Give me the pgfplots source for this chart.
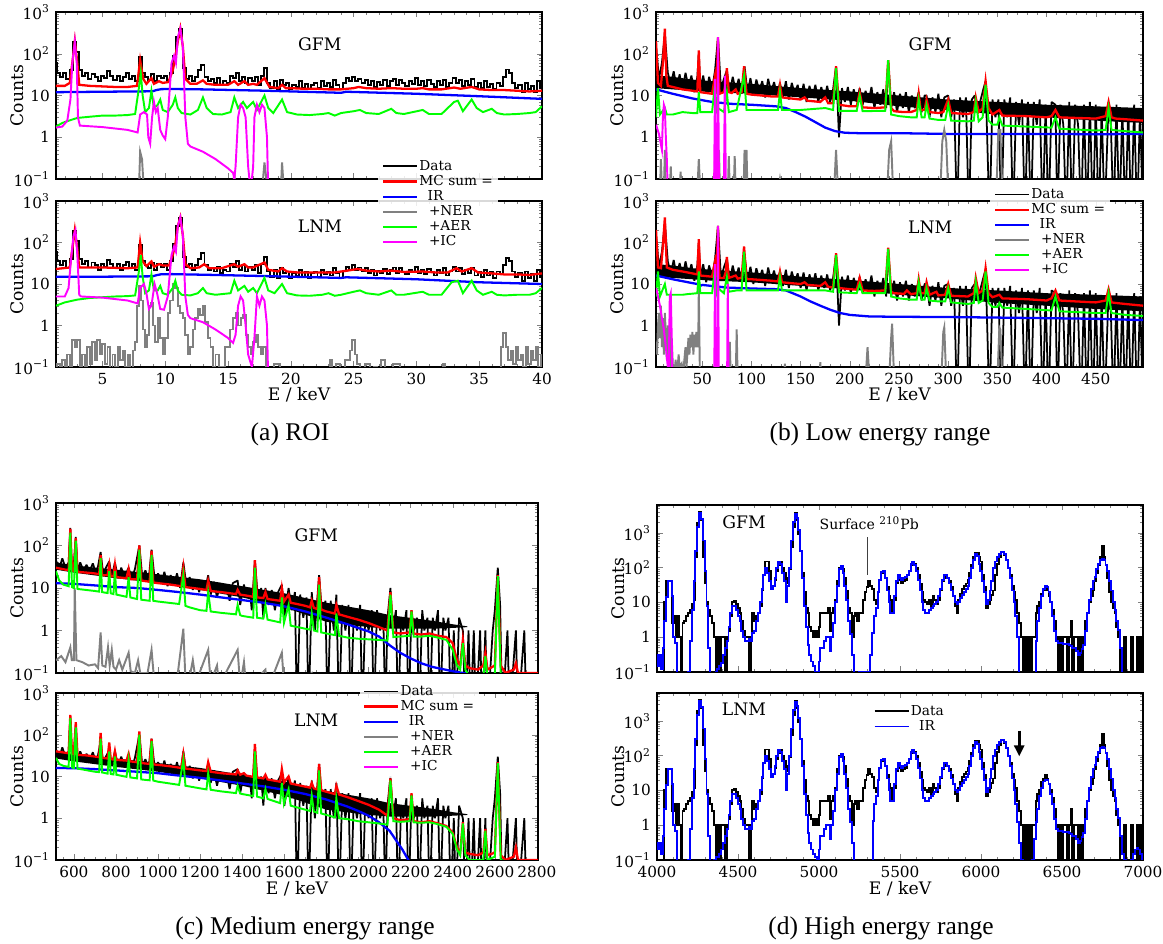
\documentclass[border=0pt]{standalone}
\usepackage{fontspec}
\setmainfont{DejaVu Serif}
\newfontfamily\capfont{Liberation Serif}
\usepackage{pgfplots}
\pgfplotsset{compat=1.18}
\usepackage{pgfplotstable}
\usetikzlibrary{arrows.meta}
\definecolor{mag}{RGB}{255,0,255}
\definecolor{lgreen}{RGB}{0,255,0}

\pgfkeys{/pgf/number format/.cd, 1000 sep={}, assume math mode=true}
\tikzset{panellab/.style={font=\fontsize{9.8}{11}\selectfont}}
\pgfplotsset{
  scale only axis,
  axis line style={line width=0.8pt},
  major tick length=0.11cm, minor tick length=0.06cm,
  tick label style={font=\fontsize{8.7}{9}\selectfont},
  ylabel style={at={(axis description cs:-0.08,0.5)}, anchor=center, font=\fontsize{9.8}{11}\selectfont},
  xlabel style={at={(axis description cs:0.5,-0.17)}, anchor=center, font=\fontsize{9.8}{11}\selectfont},
  legend cell align=left,
  legend style={font=\fontsize{7.8}{8}\selectfont, fill=white, fill opacity=0.85, text opacity=1, draw=none, anchor=north west, row sep=0pt, inner xsep=2pt, inner ysep=2pt, nodes={inner sep=0.7pt}},
  legend image code/.code={\draw[#1] (0cm,0cm) -- (0.68cm,0cm);},
}
\pgfplotsset{
 sDat/.style={black, line width=1.1pt, const plot mark mid},
 sDatThin/.style={black, line width=1.0pt, sharp plot, line join=miter, miter limit=1},
 sBand/.style={fill=black, draw=none, forget plot},
 sMC/.style={red, line width=1.3pt},
 sIR/.style={blue, line width=1.3pt},
 sNER/.style={gray, line width=1.1pt},
 sAER/.style={lgreen, line width=1.1pt},
 sIC/.style={mag, line width=1.1pt},
}

% ---------------- (a) ROI data ----------------
\pgfplotstableread{
x y
1.3 60
1.5 35
1.75 28
2.0 35
2.25 25
2.5 40
2.75 190
3.0 110
3.25 40
3.5 30
3.75 35
4.0 25
4.25 33
4.5 28
4.75 22
5.0 30
5.25 26
5.5 38
5.75 30
6.0 24
6.25 30
6.5 22
6.75 28
7.0 34
7.25 25
7.5 30
7.75 22
8.0 85
8.25 35
8.5 28
8.75 24
9.0 32
9.25 22
9.5 30
9.75 26
10.0 30
10.25 22
10.5 35
10.75 90
11.0 250
11.25 400
11.5 45
11.75 25
12.0 30
12.25 22
12.5 28
12.75 40
13.0 55
13.25 28
13.5 22
13.75 25
14.0 20
14.25 26
14.5 18
14.75 22
15.0 20
15.25 30
15.5 26
15.75 35
16.0 22
16.25 28
16.5 20
16.75 26
17.0 22
17.25 28
17.5 18
17.75 30
18.0 45
18.25 20
18.5 15
18.75 22
19.0 14
19.25 24
19.5 18
19.75 20
20.0 14
20.25 18
20.5 16
20.75 22
21.0 15
21.25 19
21.5 14
21.75 18
22.0 20
22.25 15
22.5 22
22.75 17
23.0 20
23.25 16
23.5 24
23.75 18
24.0 14
24.25 20
24.5 26
24.75 22
25.0 28
25.25 22
25.5 25
25.75 20
26.0 24
26.25 18
26.5 22
26.75 16
27.0 21
27.25 18
27.5 23
27.75 17
28.0 22
28.25 25
28.5 18
28.75 24
29.0 20
29.25 17
29.5 22
29.75 19
30.0 26
30.25 18
30.5 22
30.75 17
31.0 23
31.25 19
31.5 16
31.75 22
32.0 18
32.25 24
32.5 16
32.75 20
33.0 26
33.25 20
33.5 24
33.75 17
34.0 22
34.25 18
34.5 25
34.75 16
35.0 20
35.25 15
35.5 22
35.75 16
36.0 19
36.25 14
36.5 20
36.75 17
37.0 28
37.25 42
37.5 35
37.75 20
38.0 15
38.25 18
38.5 12
38.75 20
39.0 14
39.25 17
39.5 12
39.75 22
40.0 15
}\dataA

% ---------------- (b) low energy data ----------------
\pgfplotstableread{
x y
3 150
6 25
9 60
12 300
15 35
18 18
21 38
24 15
27 32
30 14
33 35
36 16
39 30
42 12
45 28
46.5 100
48 15
51 30
54 11
57 28
60 14
63 40
66 250
69 14
72 25
75 40
78 12
81 28
84 13
87 25
90 11
93 50
96 12
99 26
102 10
105 24
108 13
111 22
114 9
117 25
120 12
123 21
126 10
129 20
132 9
135 22
138 8
141 20
144 11
147 18
150 8
153 19
156 7
159 17
162 9
165 18
168 7
171 16
174 8
177 17
180 7
183 14
186 50
189 1
192 15
195 7
198 16
201 6
204 14
207 7
210 15
213 6
216 13
219 7
222 16
225 5
228 12
231 6
234 14
237 5
239 70
242 5
245 12
248 4
251 11
254 5
257 12
260 4
263 10
266 5
270 12
273 4
276 10
278 10
281 3
284 9
287 4
290 11
293 3
296 9
300 10
303 3
306 8
309 0.01
312 9
315 3
318 9
321 0.01
324 8
327 10
330 4
333 8
336 15
338 22
342 0.01
345 8
348 3
351 8
354 0.01
357 8
360 3
363 9
366 0.01
369 7
372 2
375 8
378 0.01
381 7
384 0.01
387 7
390 2
393 8
396 0.01
399 6
402 0.01
405 7
409 6
411 0.01
414 6
417 2
420 0.01
423 7
426 0.01
429 6
432 2
435 0.01
438 6
441 0.01
444 7
447 0.01
450 6
453 0.01
456 5
459 0.01
463 7
465 4
468 0.01
471 6
474 0.01
477 5
480 0.01
483 5
486 0.01
489 6
492 0.01
495 5
498 0.01
}\dataB

% band of the dense bins (upper envelope left to right, lower envelope right to left)
\pgfplotstableread{
x y
3 30
20 28
40 24
60 22
100 19
150 15
200 12.5
250 10
300 8
350 7
400 6
450 5.5
498 5
498 2.2
450 2.5
400 3
350 3.5
300 4.5
250 5.5
200 7.5
150 9
100 11
60 12
40 13
20 14
3 15
}\bandB

% ---------------- (c) medium energy data ----------------
\pgfplotstableread{
x y
515 45
530 28
545 50
560 30
575 40
583 260
590 30
600 38
609 160
618 25
630 40
645 26
660 35
675 25
690 38
705 22
715 33
727 70
740 20
752 30
768 42
780 18
795 40
810 17
825 30
840 18
860 30
875 16
890 28
911 100
925 18
940 26
955 15
969 80
985 14
1000 22
1015 13
1030 24
1045 11
1060 20
1075 12
1090 22
1105 10
1120 40
1135 11
1150 18
1165 9
1180 16
1195 8
1210 15
1225 10
1238 20
1250 7
1265 14
1280 6
1295 13
1310 8
1325 12
1340 5
1355 13
1378 15
1390 4
1408 12
1420 6
1435 10
1445 3
1460 45
1475 5
1490 10
1500 2
1510 10
1525 4
1540 9
1555 3
1570 8
1588 12
1600 2
1620 10
1635 3
1650 8
1660 0.01
1675 7
1690 2
1705 6
1715 0.01
1730 8
1745 1
1765 20
1780 2
1795 5
1805 0.01
1820 5
1835 1
1847 7
1860 0.01
1875 4
1890 1
1905 4
1915 0.01
1930 3
1945 1
1960 4
1970 0.01
1985 3
2000 1
2015 3
2025 0.01
2040 3
2055 1
2070 2
2080 0.01
2090 2
2104 10
2115 1
2130 3
2140 0.01
2155 2
2165 1
2180 3
2190 0.01
2204 3
2215 1
2230 2
2240 0.01
2255 3
2265 1
2280 2
2290 0.01
2305 2
2315 1
2330 3
2340 0.01
2355 2
2365 1
2380 2
2390 0.01
2405 1
2415 0.01
2430 2
2448 1
2460 0.01
2475 1
2485 0.01
2500 1
2510 0.01
2530 1
2540 0.01
2555 1
2565 0.01
2590 1
2600 3
2614 30
2625 4
2635 0.01
2660 1
2670 0.01
2700 1
2710 0.01
2740 1
2750 0.01
2805 0.01
}\dataC

\pgfplotstableread{
x y
515 40
600 34
800 27
1000 21
1200 16
1400 11
1600 7.5
1800 4.5
2000 3
2100 2.3
2300 1.7
2400 1.4
2470 1.25
2470 1.2
2400 1.15
2300 1.1
2100 1.1
2000 1.2
1800 1.6
1600 3.5
1400 6
1200 9
1000 13
800 17
600 23
515 27
}\bandC

% ---------------- (d) high energy data ----------------
\pgfplotstableread{
x y
4000 0.01
4040 0.01
4050 10
4062 40
4078 40
4090 40
4100 2.5
4110 4
4120 1
4130 4
4140 1
4152 0.01
4163 2.5
4175 3
4186 4
4198 5
4209 6
4220 9
4231 12
4243 200
4254 1900
4266 4100
4277 2400
4288 200
4300 35
4311 10
4322 6
4334 4
4345 2.5
4356 1
4367 0.01
4378 1
4390 0.01
4401 1
4412 1
4424 0.01
4436 1
4447 1.5
4458 4
4470 10
4481 11
4493 9
4504 7
4515 5
4527 3
4538 1.5
4549 1
4561 1
4572 0.01
4583 1
4595 5
4606 3
4618 4
4629 5
4640 8
4651 22
4662 60
4670 150
4686 150
4697 80
4708 28
4720 30
4731 45
4743 80
4754 120
4765 150
4777 100
4788 70
4800 35
4811 50
4822 90
4833 400
4844 1500
4856 3700
4867 2400
4878 900
4889 300
4901 70
4912 20
4924 7
4935 5
4946 2
4958 1.5
4969 1
4980 1.5
4992 1
5003 2
5015 5
5026 5
5037 5
5049 5
5060 7
5071 1.5
5083 5
5094 7
5106 12
5117 40
5128 100
5140 110
5151 90
5162 50
5174 22
5185 7
5196 5
5208 1
5219 4
5230 5
5242 3
5253 5
5264 5
5276 12
5287 20
5299 28
5310 40
5321 30
5333 25
5344 12
5356 9
5367 20
5378 45
5390 70
5401 80
5412 50
5424 28
5435 15
5446 12
5458 5
5469 12
5480 35
5492 60
5503 45
5514 35
5526 40
5537 45
5548 60
5560 80
5571 120
5582 150
5594 130
5605 100
5616 60
5628 35
5639 20
5650 12
5662 10
5673 9
5684 12
5696 8
5707 15
5718 12
5730 9
5741 12
5752 22
5764 40
5775 50
5786 55
5798 50
5809 40
5820 28
5832 15
5843 8
5855 5
5866 12
5877 18
5889 25
5900 30
5911 35
5923 45
5934 70
5946 120
5957 200
5968 260
5980 260
5991 200
6002 150
6014 60
6025 28
6036 7
6048 9
6059 12
6070 16
6082 22
6093 60
6105 130
6116 200
6128 290
6139 280
6150 230
6162 160
6173 100
6184 60
6196 30
6207 20
6218 12
6230 5
6241 2.5
6252 1
6263 0.01
6275 1
6286 0.01
6297 1
6309 0.01
6320 1
6331 1
6343 5
6354 8
6365 10
6377 18
6388 22
6400 28
6411 22
6422 15
6434 10
6445 6
6456 3
6467 1
6479 0.01
6490 1
6501 0.01
6513 1
6524 1
6535 0.01
6547 1
6558 3
6569 0.01
6581 1
6592 1
6603 0.01
6615 1
6626 0.01
6638 1
6650 3
6661 5
6672 10
6683 15
6695 22
6706 40
6717 70
6729 120
6740 200
6751 420
6763 200
6774 120
6785 50
6797 20
6808 10
6819 7
6830 5
6842 2
6853 1
6865 0.01
6876 0.01
6887 1
6899 0.01
6921 0.01
6932 1
6944 0.01
6955 0.01
6966 1
6978 0.01
6990 1
7000 0.01
}\dataD

\pgfplotstableread{
x y
4000 0.3
4010 0.15
4020 0.3
4030 0.12
4040 0.5
4050 3
4062 14
4073 40
4085 42
4096 15
4107 1
4118 0.7
4130 0.01
4186 0.01
4198 0.1
4209 0.8
4220 6
4231 40
4243 300
4254 1500
4266 3700
4277 2500
4288 600
4300 80
4311 8
4322 0.5
4334 0.01
4356 0.01
4367 0.1
4378 0.12
4390 0.15
4401 0.18
4412 0.3
4424 0.5
4436 0.8
4447 2
4458 5
4470 8
4481 8
4493 6
4504 4
4515 3
4527 1.5
4538 1
4549 0.8
4561 0.8
4572 0.9
4583 0.8
4595 1.3
4606 1.5
4618 3
4629 5
4640 10
4651 25
4662 60
4674 100
4686 70
4697 40
4708 25
4720 30
4731 50
4743 100
4754 150
4765 130
4777 70
4788 40
4800 10
4811 30
4822 100
4833 600
4844 2000
4856 3500
4867 2600
4878 1200
4889 300
4901 50
4912 8
4924 2
4935 0.6
4946 0.3
4958 0.2
4969 0.15
4980 0.1
4992 0.1
5003 0.2
5015 0.5
5026 0.5
5037 0.8
5049 1
5060 1
5071 0.4
5083 1
5094 2.5
5106 10
5117 30
5128 90
5140 110
5151 70
5162 30
5174 12
5185 3
5196 1.2
5208 0.3
5219 0.01
5242 0.01
5253 0.1
5264 0.1
5276 0.1
5287 0.1
5299 0.1
5310 0.1
5321 0.3
5333 1.3
5344 4
5356 7
5367 20
5378 45
5390 75
5401 80
5412 50
5424 22
5435 10
5446 5
5458 5
5469 15
5480 40
5492 60
5503 50
5514 45
5526 50
5537 55
5548 60
5560 80
5571 130
5582 150
5594 120
5605 80
5616 45
5628 22
5639 10
5650 6
5662 5
5673 5
5684 6
5696 7
5707 8
5718 9
5730 10
5741 15
5752 25
5764 45
5775 60
5786 60
5798 50
5809 35
5820 22
5832 15
5843 10
5855 9
5866 10
5877 13
5889 16
5900 20
5911 25
5923 30
5934 50
5946 100
5957 165
5968 250
5980 220
5991 130
6002 80
6014 40
6025 20
6036 9
6048 12
6059 22
6070 40
6082 100
6093 150
6105 200
6116 250
6128 280
6139 290
6150 250
6162 170
6173 100
6184 50
6196 22
6207 10
6218 4
6230 1
6241 0.01
6331 0.01
6343 0.8
6354 3
6365 7
6377 15
6388 25
6400 30
6411 28
6422 20
6434 10
6445 4
6456 1.5
6467 0.8
6479 0.7
6490 0.7
6501 0.7
6513 0.65
6524 0.65
6535 0.65
6547 0.6
6558 0.55
6569 0.5
6581 0.5
6592 0.4
6603 0.3
6615 0.35
6626 0.45
6638 0.6
6650 1.5
6661 5
6672 12
6683 25
6695 40
6706 55
6717 90
6729 130
6740 165
6751 180
6763 170
6774 120
6785 80
6797 40
6808 22
6819 10
6830 6
6842 3
6853 1.6
6865 0.5
6876 0.01
7000 0.01
}\irDg

\pgfplotstableread{
x y
4000 0.3
4010 0.2
4020 0.3
4030 0.15
4040 0.5
4050 3
4062 14
4073 40
4085 42
4096 15
4107 1
4118 0.7
4130 0.01
4186 0.01
4198 0.1
4209 0.8
4220 6
4231 40
4243 300
4254 1500
4266 3700
4277 2500
4288 600
4300 80
4311 8
4322 0.5
4334 0.01
4345 0.01
4356 0.1
4367 0.12
4378 0.12
4390 0.15
4401 0.2
4412 0.3
4424 0.5
4436 0.8
4447 2
4458 5
4470 8
4481 8
4493 6
4504 4
4515 3
4527 1.5
4538 1
4549 0.8
4561 0.8
4572 0.9
4583 0.8
4595 1.3
4606 1.5
4618 3
4629 5
4640 10
4651 25
4662 60
4674 100
4686 70
4697 40
4708 25
4720 30
4731 50
4743 100
4754 150
4765 130
4777 70
4788 40
4800 10
4811 30
4822 100
4833 600
4844 2000
4856 3500
4867 2600
4878 1200
4889 300
4901 50
4912 8
4924 2
4935 0.6
4946 0.3
4958 0.2
4969 0.15
4980 0.12
4992 0.1
5003 0.2
5015 0.5
5026 0.5
5037 0.8
5049 1
5060 1
5071 0.4
5083 1
5094 2.5
5106 10
5117 30
5128 90
5140 110
5151 70
5162 30
5174 12
5185 3
5196 1.2
5208 0.3
5219 0.01
5331 0.01
5333 1.3
5344 4
5356 7
5367 20
5378 45
5390 75
5401 80
5412 50
5424 22
5435 10
5446 5
5458 5
5469 15
5480 40
5492 60
5503 50
5514 45
5526 50
5537 55
5548 60
5560 80
5571 130
5582 150
5594 120
5605 80
5616 45
5628 22
5639 10
5650 6
5662 5
5673 5
5684 6
5696 7
5707 8
5718 9
5730 10
5741 15
5752 25
5764 45
5775 60
5786 60
5798 50
5809 35
5820 22
5832 15
5843 10
5855 9
5866 10
5877 13
5889 16
5900 20
5911 25
5923 30
5934 50
5946 100
5957 165
5968 250
5980 220
5991 130
6002 80
6014 40
6025 20
6036 9
6048 12
6059 22
6070 40
6082 100
6093 150
6105 200
6116 250
6128 280
6139 290
6150 250
6162 170
6173 100
6184 50
6196 22
6207 10
6218 4
6230 1.2
6241 0.3
6252 0.1
6263 0.01
6309 0.01
6320 0.1
6331 0.4
6343 1.2
6354 3
6365 7
6377 12
6388 18
6400 20
6411 20
6422 15
6434 8
6445 4
6456 1.5
6467 0.8
6479 0.7
6490 0.7
6501 0.7
6513 0.65
6524 0.65
6535 0.65
6547 0.6
6558 0.55
6569 0.5
6581 0.5
6592 0.4
6603 0.3
6615 0.35
6626 0.45
6638 0.6
6650 1.5
6661 5
6672 12
6683 25
6695 40
6706 55
6717 90
6729 130
6740 165
6751 180
6763 170
6774 120
6785 80
6797 40
6808 22
6819 10
6830 6
6842 3
6853 1.6
6865 0.5
6876 0.15
6887 0.1
6899 0.01
6921 0.01
6932 0.1
6944 0.15
6955 0.2
6966 0.22
6978 0.2
6990 0.15
7000 0.1
}\irDl

\begin{document}
\begin{tikzpicture}

% ================= (a) ROI =================
\begin{axis}[at={(1.12cm,18.64cm)}, anchor=north west, width=9.72cm, height=3.34cm,
  ymode=log, ymin=0.1, ymax=1000, ytick={0.1,1,10,100,1000}, yticklabels={10\textsuperscript{−1},1,10,10\textsuperscript{2},10\textsuperscript{3}},
  minor ytick={0.2,0.3,0.4,0.5,0.6,0.7,0.8,0.9,2,3,4,5,6,7,8,9,20,30,40,50,60,70,80,90,200,300,400,500,600,700,800,900},
  ylabel={Counts},
  xmin=1.3, xmax=40, xtick={5,10,...,40}, xticklabels={}, minor xtick={2,3,...,40}]
\addplot[sDat] table {\dataA};
\addplot[sMC] coordinates {(1.3,17) (2.0,17) (2.4,20) (2.65,80) (2.8,200) (3.0,60) (3.15,18) (4,17) (5,16.5) (6,16) (7,16) (7.75,17) (8.0,70) (8.25,25) (8.5,19) (8.9,26) (9.1,19) (9.5,22) (9.8,20) (10.25,21) (10.6,40) (10.8,80) (11.0,200) (11.2,400) (11.4,150) (11.6,25) (12.0,19) (12.5,19) (13.0,23) (13.3,19) (14,18) (15.0,18) (15.5,22) (15.8,18) (16.3,22) (16.6,18) (17.0,19) (17.3,18) (17.9,26) (18.3,16) (19,15) (19.3,18) (19.6,15) (20,15) (21,14.5) (22,14.5) (23,14) (24,14) (25,15) (25.4,16) (26,15) (27,14.5) (28,15) (29,14.5) (30,14.5) (30.5,15) (31,14) (32,14) (33,15.5) (33.5,14.5) (34.4,16) (35,14) (36,13.5) (37,13.5) (38,13) (39,12.5) (40,13)};
\addplot[sIR] coordinates {(1.3,12) (5,12.3) (9.0,12.6) (9.3,13.5) (9.7,14.2) (10.5,14.3) (13,14) (18,13) (24,11.6) (24.4,12.3) (30,11) (35,9.6) (40,8.3)};
\addplot[sNER] coordinates {(1.3,0.03) (7.9,0.05) (8.0,0.45) (8.15,0.3) (8.3,0.05) (15.4,0.05) (15.5,0.15) (15.6,0.05) (17.7,0.05) (17.9,0.25) (18.05,0.1) (18.2,0.05) (19.2,0.05) (19.3,0.25) (19.45,0.05) (40,0.03)};
\addplot[sAER] coordinates {(1.3,1.8) (1.8,2.2) (2.5,2.6) (3,2.9) (4,3.1) (5,3.3) (6,3.3) (7,3.4) (7.6,3.6) (7.9,15) (8.05,35) (8.2,10) (8.4,4) (8.7,5) (8.9,13) (9.1,5) (9.4,6) (9.6,8) (9.8,4.5) (10.2,4) (10.6,6) (10.8,9) (11.0,5) (11.3,3.8) (12,3.5) (12.6,4.5) (13.0,9) (13.3,5) (13.8,3.6) (14.5,3.5) (15.2,4) (15.5,9) (15.8,5) (16.2,7) (16.5,5) (17.0,7) (17.3,4.5) (17.9,10) (18.2,5) (18.6,3.8) (19.3,8) (19.7,4) (20.5,3.5) (21.5,3.4) (22.5,3.6) (23,3.8) (23.5,3.3) (24,3.8) (25,4.2) (25.5,4.5) (26,3.8) (27,3.6) (28,4.8) (28.4,3.8) (29,3.6) (30.5,4.5) (31,3.6) (32,3.6) (33,7) (33.3,7.5) (33.7,4.2) (34.4,8) (34.8,5) (35.3,4) (36,4.8) (36.4,3.8) (37,3.5) (38,3.6) (39,3.8) (39.5,4) (40,5.5)};
\addplot[sIC] coordinates {(1.3,1.7) (1.8,1.8) (2.2,2.5) (2.45,8) (2.6,60) (2.8,200) (2.95,60) (3.05,3) (3.2,1.9) (5,1.75) (7,1.5) (7.8,1.3) (8.0,3.5) (8.3,4) (8.55,3.5) (8.65,1.0) (8.8,0.7) (8.95,3) (9.1,7) (9.25,4) (9.4,5) (9.6,1.5) (9.8,1.1) (10.0,0.9) (10.2,3) (10.5,60) (10.7,90) (10.85,60) (11.0,250) (11.2,400) (11.4,150) (11.6,3) (11.8,0.7) (12.0,0.6) (13,0.45) (14,0.3) (15,0.18) (15.4,0.14) (15.5,0.1) (15.6,0.2) (15.8,3) (16.0,6) (16.2,5) (16.4,3) (16.6,0.2) (16.8,0.05) (17.0,0.2) (17.1,3) (17.3,6) (17.5,4) (17.7,6) (17.9,5) (18.1,1) (18.2,0.05) (18.25,0.01)};
\node[panellab] at (axis description cs:0.543,0.808) {GFM};
\end{axis}

\begin{axis}[at={(1.12cm,14.86cm)}, anchor=north west, width=9.72cm, height=3.32cm,
  ymode=log, ymin=0.1, ymax=1000, ytick={0.1,1,10,100,1000}, yticklabels={10\textsuperscript{−1},1,10,10\textsuperscript{2},10\textsuperscript{3}},
  minor ytick={0.2,0.3,0.4,0.5,0.6,0.7,0.8,0.9,2,3,4,5,6,7,8,9,20,30,40,50,60,70,80,90,200,300,400,500,600,700,800,900},
  ylabel={Counts},
  xmin=1.3, xmax=40, xtick={5,10,...,40}, minor xtick={2,3,...,40}, xlabel={E / keV},
  legend style={at={(axis description cs:0.6626,1.277)}},
  legend entries={Data, MC sum =, \hspace{0.6em}IR, \hspace{0.7em}+NER, \hspace{0.7em}+AER, \hspace{0.7em}+IC}]
\addplot[sDat] table {\dataA};
\addplot[sMC] coordinates {(1.3,23) (2.4,25) (2.65,90) (2.8,200) (3.0,70) (3.15,25) (5,25) (7,24) (7.8,25) (8.0,100) (8.2,35) (8.5,27) (8.9,35) (9.1,26) (9.5,30) (9.8,28) (10.3,28) (10.6,50) (10.8,90) (11.0,250) (11.2,400) (11.4,150) (11.6,30) (12,24) (12.7,25) (13.1,30) (13.5,24) (14.5,24) (15.5,30) (15.8,26) (16.3,30) (16.6,25) (17.0,25) (17.9,33) (18.2,22) (19,20) (19.3,24) (19.7,20) (20.5,19) (22,19) (23.5,19) (24.5,21) (25.3,23) (26,21) (27,20) (28,21) (29,19.5) (30.5,20) (31.5,19) (32.5,19) (33.2,24) (33.6,20) (34.4,24) (34.9,19) (36,18) (37,17) (38,17) (39,16.5) (40,18)};
\addplot[sIR] coordinates {(1.3,15) (5,15) (9.0,15.3) (9.3,16.3) (9.7,17.2) (10.5,17.3) (14,16.5) (18,15.5) (24,14) (24.4,14.5) (30,13) (35,11) (40,10)};
\addplot[sNER, const plot mark mid] coordinates {(1.3,0.05) (1.5,0.12) (1.7,0.05) (1.9,0.15) (2.1,0.05) (2.3,0.2) (2.5,0.1) (2.7,0.45) (2.9,0.3) (3.1,0.45) (3.3,0.1) (3.5,0.2) (3.7,0.05) (3.9,0.3) (4.1,0.12) (4.3,0.4) (4.5,0.15) (4.7,0.45) (4.9,0.2) (5.1,0.35) (5.3,0.12) (5.5,0.3) (5.7,0.05) (5.9,0.2) (6.1,0.1) (6.3,0.3) (6.5,0.15) (6.7,0.25) (6.9,0.1) (7.1,0.2) (7.3,0.05) (7.5,0.25) (7.7,0.4) (7.85,3) (8.0,9) (8.15,4) (8.3,0.8) (8.45,0.3) (8.6,0.6) (8.8,3) (8.95,3.5) (9.1,1) (9.3,0.4) (9.5,1.5) (9.7,0.5) (9.9,0.2) (10.1,0.5) (10.3,2) (10.5,4) (10.7,10) (10.9,8) (11.1,3) (11.3,2) (11.5,1.5) (11.7,0.6) (11.9,0.2) (12.1,0.3) (12.3,0.8) (12.5,1.5) (12.7,2.5) (12.9,1.8) (13.1,3) (13.3,1.2) (13.5,0.5) (13.7,0.3) (13.9,0.1) (14.1,0.2) (14.5,0.1) (15.0,0.3) (15.3,0.8) (15.5,1.5) (15.7,2) (15.9,1) (16.1,1.5) (16.3,1.8) (16.5,0.6) (16.7,0.3) (16.9,0.2) (17.1,0.4) (17.3,0.6) (17.5,0.3) (17.7,0.2) (17.9,0.3) (18.1,0.1) (18.3,0.05) (19.0,0.12) (19.2,0.05) (23.0,0.05) (23.2,0.15) (23.4,0.05) (23.8,0.12) (24.0,0.05) (24.6,0.15) (24.8,0.25) (25.0,0.45) (25.2,0.2) (25.4,0.12) (25.6,0.05) (26.2,0.12) (26.4,0.05) (26.8,0.1) (27.0,0.05) (27.4,0.15) (27.6,0.05) (28.6,0.12) (28.8,0.05) (32.0,0.05) (32.2,0.12) (32.4,0.05) (36.6,0.05) (36.8,0.3) (37.0,0.65) (37.2,0.3) (37.4,0.15) (37.6,0.25) (37.8,0.12) (38.0,0.3) (38.2,0.15) (38.4,0.2) (38.6,0.1) (38.8,0.3) (39.0,0.12) (39.2,0.25) (39.4,0.15) (39.6,0.3) (39.8,0.1) (40,0.2)};
\addplot[sAER] coordinates {(1.3,3) (2,3.6) (3,4.2) (4,4.6) (5,4.8) (6,5) (7,5.1) (7.6,5.3) (7.9,20) (8.05,50) (8.2,15) (8.4,6) (8.7,7) (8.9,17) (9.1,7) (9.4,7) (9.6,9) (9.8,6) (10.2,5.5) (10.6,8) (10.8,12) (11.0,7) (11.3,5.5) (12,5.3) (12.6,6) (13.0,8) (13.3,6) (14,5.5) (15.2,6) (15.5,12) (15.8,7) (16.3,9) (16.6,6.5) (17.0,8) (17.3,6) (17.9,14) (18.2,7) (18.7,6) (19.3,10) (19.7,6) (20.5,5.3) (21.5,5.2) (22.5,5.5) (23,6) (23.5,5.2) (24,5.5) (25,6.5) (25.5,7) (26,6) (27,5.5) (28,7) (28.4,5.5) (29,5.5) (30.5,6.5) (31,5.5) (32,5.5) (32.8,11) (33.3,12) (33.7,6) (34.4,12) (34.8,7) (35.3,5.5) (36,6.5) (36.4,5.5) (37,5.3) (38,5.5) (39,5.5) (39.5,6) (40,8)};
\addplot[sIC] coordinates {(1.3,5) (2,5) (2.3,8) (2.5,40) (2.7,150) (2.85,200) (3.0,50) (3.15,5.5) (3.3,5) (5,4.7) (7,4) (7.8,3.4) (8.0,8) (8.3,10) (8.5,6) (8.7,2.5) (8.9,3) (9.15,10) (9.35,6) (9.6,2.5) (9.9,2.4) (10.2,5) (10.5,50) (10.7,80) (10.85,60) (11.0,250) (11.2,400) (11.4,150) (11.6,5) (11.8,1.8) (12.0,1.5) (13,1.2) (14,0.8) (15,0.5) (15.4,0.38) (15.6,0.6) (15.8,3) (16.0,5) (16.2,4) (16.4,1) (16.6,0.2) (16.9,0.1) (17.1,0.5) (17.3,5) (17.5,3) (17.7,5) (17.9,4) (18.1,1) (18.25,0.01)};
\node[panellab] at (axis description cs:0.543,0.849) {LNM};
\end{axis}

% ================= (b) Low energy =================
\begin{axis}[at={(13.12cm,18.64cm)}, anchor=north west, width=9.74cm, height=3.34cm,
  ymode=log, ymin=0.1, ymax=1000, ytick={0.1,1,10,100,1000}, yticklabels={10\textsuperscript{−1},1,10,10\textsuperscript{2},10\textsuperscript{3}},
  minor ytick={0.2,0.3,0.4,0.5,0.6,0.7,0.8,0.9,2,3,4,5,6,7,8,9,20,30,40,50,60,70,80,90,200,300,400,500,600,700,800,900},
  ylabel={Counts},
  xmin=3, xmax=498, xtick={50,100,...,450}, xticklabels={}, minor xtick={10,20,...,490}]
\addplot[sBand] table {\bandB};
\addplot[sDatThin] table {\dataB};
\addplot[sMC] coordinates {(3,200) (5,20) (8,17) (10,60) (12,400) (13.5,30) (15,17) (20,16) (30,14) (40,13) (45,12.5) (46.5,120) (48,12) (60,11) (63,30) (64.5,11) (66,250) (67.5,11) (72,12) (74,20) (75,45) (77,12) (80,11.5) (84,14) (86,11) (90,12) (92.5,50) (95,11) (100,10.5) (110,10) (120,9.5) (127,9.5) (129,18) (131,9) (140,8.5) (150,8) (154,9) (157,7.5) (170,7) (175,9) (178,6.5) (183,6.5) (186,50) (189,6) (200,5.5) (207,5.5) (210,12) (213,5.2) (225,5) (236,5.2) (239,70) (242,5) (245,4.2) (255,4) (262,4) (268,4.5) (270,11) (272,4.5) (276,4.5) (278,8) (281,4) (290,3.8) (295,4) (300,8) (303,3.8) (320,3.6) (326,4) (328,9) (331,4) (335,5) (338,22) (341,5) (345,3.5) (352,4.5) (355,3.3) (380,3.2) (400,3) (405,3.2) (409,4.5) (413,3) (430,2.9) (450,2.8) (460,3.2) (463,7) (466,3) (470,2.8) (480,2.7) (498,2.5)};
\addplot[sIR] coordinates {(3,14) (20,11) (40,8.5) (60,7) (80,6.3) (100,6) (125,5.5) (135,5) (145,4) (155,3.1) (165,2.3) (175,1.7) (185,1.4) (195,1.28) (210,1.25) (250,1.25) (300,1.2) (350,1.2) (400,1.2) (450,1.18) (498,1.2)};
\addplot[sNER] coordinates {(3,0.05) (7,0.05) (8,0.3) (9,0.05) (11,0.05) (12,0.5) (13,0.05) (17,0.05) (18,0.2) (19,0.05) (27,0.05) (28,0.15) (29,0.05) (45,0.05) (46.5,0.3) (48,0.05) (62,0.05) (63,0.3) (64,0.05) (66,0.05) (67,0.5) (68,0.05) (76,0.05) (77,0.35) (78,0.05) (82,0.05) (83,0.35) (84,0.05) (92,0.05) (93,0.5) (94,0.05) (95,0.5) (96,0.05) (127,0.05) (129,0.1) (131,0.05) (184,0.05) (186,0.5) (188,0.05) (238,0.05) (240,0.5) (242,0.8) (244,0.05) (292,0.05) (294,0.8) (296,1.5) (298,0.8) (300,0.05) (349,0.05) (351,1.5) (353,1.5) (355,0.05) (498,0.05)};
\addplot[sAER] coordinates {(3,3) (5,15) (7,3.5) (12,5) (14,3.5) (20,3.5) (30,4) (40,3.8) (45,3.8) (46.5,12) (48,4) (60,4) (63,20) (64.5,4.2) (66,5) (72,4) (75,12) (77,4) (85,4.5) (92.5,30) (95,4.5) (110,4.5) (127,4.5) (129,12) (131,4.5) (150,4.5) (175,5) (183,4.5) (186,45) (189,4.3) (207,4.3) (210,10) (213,4.2) (236,4.3) (239,70) (242,3.5) (250,3.2) (262,3) (268,3) (270,8) (273,3) (276,3) (278,6) (281,2.8) (290,2.6) (297,2.6) (300,6) (303,2.5) (320,2.4) (326,2.5) (328,7) (331,2.4) (335,3) (338,18) (341,2.5) (345,2) (350,2) (352,3) (355,1.9) (380,1.8) (405,1.7) (409,3) (413,1.6) (450,1.45) (460,1.5) (463,5) (466,1.5) (480,1.4) (498,1.3)};
\addplot[sIC] coordinates {(3,2) (6,1.2) (9,0.5) (10,3) (11,6) (12,5) (13,1) (14,0.3) (15,0.05) (62,0.05) (63,25) (64,0.1) (65.5,0.05) (66,250) (67,0.05) (72,0.05) (73,30) (74,0.05) (498,0.05)};
\node[panellab] at (axis description cs:0.563,0.808) {GFM};
\end{axis}

\begin{axis}[at={(13.12cm,14.86cm)}, anchor=north west, width=9.74cm, height=3.32cm,
  ymode=log, ymin=0.1, ymax=1000, ytick={0.1,1,10,100,1000}, yticklabels={10\textsuperscript{−1},1,10,10\textsuperscript{2},10\textsuperscript{3}},
  minor ytick={0.2,0.3,0.4,0.5,0.6,0.7,0.8,0.9,2,3,4,5,6,7,8,9,20,30,40,50,60,70,80,90,200,300,400,500,600,700,800,900},
  ylabel={Counts},
  xmin=3, xmax=498, xtick={50,100,...,450}, minor xtick={10,20,...,490}, xlabel={E / keV},
  legend style={at={(axis description cs:0.686,1.108)}},
  legend entries={Data, MC sum =, \hspace{0.6em}IR, \hspace{0.7em}+NER, \hspace{0.7em}+AER, \hspace{0.7em}+IC}]
\addplot[sBand] table {\bandB};
\addplot[sDatThin] table {\dataB};
\addplot[sMC] coordinates {(3,200) (5,25) (8,24) (10,80) (12,400) (14,25) (20,22) (30,20) (40,18) (45,17) (46.5,120) (48,16) (60,15) (63,35) (64.5,15) (66,250) (67.5,14) (72,14) (74,20) (75,45) (77,14) (84,16) (86,13.5) (90,14) (92.5,80) (95,13) (100,13) (110,12.5) (120,12) (127,11.5) (129,20) (131,11) (140,10.5) (150,10) (154,11) (157,9.5) (170,9) (175,11) (178,8.5) (183,8.3) (186,55) (189,8) (200,7.5) (207,7.3) (210,14) (213,7) (225,6.8) (236,7) (239,75) (242,6.5) (245,6) (255,5.8) (258,7) (262,5.7) (268,6) (270,13) (272,6) (276,6) (278,11) (281,5.5) (288,6.5) (290,5.3) (297,5.5) (300,10) (303,5.2) (320,5) (326,6) (328,14) (331,6) (335,7) (338,24) (341,6) (345,4.8) (352,5.5) (355,4.5) (380,4.3) (400,4) (405,4.5) (409,7) (413,4) (430,3.8) (450,3.6) (460,4) (463,7.5) (466,3.6) (470,3.5) (480,3.3) (498,3)};
\addplot[sIR] coordinates {(3,16) (20,13) (40,10.5) (47,9.8) (48,9) (50,9.5) (75,8.2) (100,7.8) (125,7.5) (135,7) (150,5) (160,3.8) (170,3) (180,2.4) (190,2) (200,1.8) (220,1.65) (250,1.62) (300,1.6) (350,1.55) (400,1.5) (450,1.45) (498,1.35)};
\addplot[sNER] coordinates {(3,0.4) (4,0.2) (5,1) (6,2) (7,0.5) (8,3) (9,0.3) (10,1.5) (11,0.2) (12,2) (13,0.6) (14,0.15) (15,1) (16,0.3) (17,0.8) (18,0.1) (19,0.5) (20,0.12) (21,0.05) (23,0.15) (24,0.05) (26,0.2) (27,0.1) (29,0.12) (30,0.05) (33,0.3) (34,0.1) (36,0.5) (37,0.2) (38,0.6) (39,0.3) (40,0.7) (41,0.2) (42,0.6) (43,0.3) (44,0.7) (45,0.3) (46,0.5) (46.5,8) (47.5,0.1) (49,0.05) (64,0.05) (65,0.3) (66,0.05) (77,0.05) (78,0.4) (79,0.05) (84,0.05) (85,0.8) (86,0.05) (133,0.05) (134,0.12) (135,0.05) (169,0.05) (170,0.13) (171,0.05) (216,0.05) (218,0.3) (220,0.05) (240,0.05) (242,0.5) (243,1.1) (245,0.05) (293,0.05) (295,0.7) (296,0.9) (298,0.05) (350,0.05) (352,0.9) (353,0.8) (355,0.05) (498,0.05)};
\addplot[sAER] coordinates {(3,5) (5,20) (7,5) (12,10) (14,5.5) (20,5.5) (30,5.5) (35,5.7) (45,6) (46.5,20) (48,6) (60,6) (63,25) (64.5,6) (66,8) (72,6) (75,15) (77,6.5) (85,7) (90,7) (92.5,60) (95,7) (110,7) (120,7) (127,7) (129,15) (131,7) (150,7) (175,7) (183,6.5) (186,50) (189,6.3) (207,6) (210,10) (213,6) (236,6) (239,70) (242,5) (250,4.5) (262,4.2) (268,4.2) (270,11) (273,4.2) (276,4.2) (278,8) (281,4) (290,3.8) (297,3.8) (300,8) (303,3.6) (320,3.3) (326,3.5) (328,11) (331,3.5) (335,4) (338,20) (341,3.5) (345,2.8) (350,2.8) (352,3.5) (355,2.7) (380,2.5) (405,2.3) (409,5) (413,2.2) (450,2) (460,2) (463,6) (466,2) (480,1.8) (498,1.7)};
\addplot[sIC] coordinates {(3,8) (5,5) (7,3) (9,1.5) (11,0.8) (13,0.3) (15,0.1) (16,0.1) (17,5) (18,6) (19,0.5) (20,0.01) (62,0.01) (63,30) (64,0.01) (65.5,0.01) (66,250) (67,0.01) (75,0.01) (76,10) (77,0.01) (498,0.01)};
\node[panellab] at (axis description cs:0.563,0.84) {LNM};
\end{axis}

% ================= (c) Medium energy =================
\begin{axis}[at={(1.12cm,8.82cm)}, anchor=north west, width=9.64cm, height=3.40cm,
  ymode=log, ymin=0.1, ymax=1000, ytick={0.1,1,10,100,1000}, yticklabels={10\textsuperscript{−1},1,10,10\textsuperscript{2},10\textsuperscript{3}},
  minor ytick={0.2,0.3,0.4,0.5,0.6,0.7,0.8,0.9,2,3,4,5,6,7,8,9,20,30,40,50,60,70,80,90,200,300,400,500,600,700,800,900},
  ylabel={Counts},
  xmin=515, xmax=2805, xtick={600,800,...,2800}, xticklabels={}, minor xtick={550,600,...,2800}]
\addplot[sBand] table {\bandC};
\addplot[sDatThin] table {\dataC};
\addplot[sMC] coordinates {(515,30) (560,27) (575,27) (583,250) (591,26) (600,25) (609,150) (617,24) (660,23) (700,22) (720,21) (727,60) (734,20) (760,20) (768,35) (775,19) (788,19) (795,35) (802,18) (850,17) (860,28) (868,16) (900,16) (911,100) (920,15) (960,14) (969,75) (977,13.5) (1000,13) (1060,12) (1110,11) (1120,30) (1130,10.5) (1200,9.5) (1230,9) (1238,15) (1250,8.5) (1300,8) (1370,7.2) (1378,9) (1390,7) (1430,6.5) (1452,6.2) (1460,45) (1470,6) (1500,5.8) (1510,8) (1520,5.5) (1580,5) (1588,10) (1598,4.8) (1620,7) (1630,4.5) (1660,4.2) (1700,3.8) (1722,3.5) (1730,5) (1740,3.4) (1757,3.2) (1765,18) (1775,3.1) (1800,2.8) (1840,2.5) (1847,4) (1860,2.4) (1900,2.1) (1950,1.8) (2000,1.5) (2050,1.2) (2090,1.0) (2104,8) (2118,0.9) (2150,0.85) (2195,0.9) (2204,3) (2214,0.85) (2250,0.8) (2290,0.85) (2330,0.75) (2370,0.7) (2400,0.5) (2420,0.2) (2435,0.15) (2448,0.6) (2460,0.15) (2480,0.13) (2520,0.12) (2545,0.15) (2555,0.3) (2565,0.12) (2600,0.15) (2614,20) (2628,0.15) (2650,0.1) (2690,0.12) (2700,0.17) (2710,0.1) (2805,0.1)};
\addplot[sIR] coordinates {(515,13) (600,12.5) (700,11.5) (800,10.5) (900,10) (1000,9) (1100,8) (1200,7) (1300,6) (1400,5.2) (1500,4.5) (1600,3.7) (1700,2.8) (1800,2) (1900,1.4) (1950,1.15) (2000,0.95) (2050,0.72) (2100,0.45) (2150,0.3) (2200,0.22) (2250,0.17) (2300,0.14) (2400,0.11) (2450,0.1) (2500,0.09) (2805,0.05)};
\addplot[sNER] coordinates {(515,0.2) (540,0.25) (560,0.18) (583,0.4) (590,0.2) (600,0.2) (604,10) (612,0.2) (640,0.18) (670,0.15) (700,0.16) (715,0.13) (727,0.9) (735,0.15) (750,0.14) (762,0.4) (770,0.15) (780,0.35) (788,0.14) (800,0.12) (815,0.2) (830,0.12) (860,0.3) (870,0.11) (890,0.1) (905,0.2) (915,0.1) (950,0.1) (969,0.35) (980,0.08) (1000,0.09) (1090,0.07) (1120,1.1) (1130,0.07) (1150,0.08) (1165,0.2) (1180,0.06) (1238,0.35) (1250,0.06) (1280,0.15) (1290,0.05) (1378,0.35) (1390,0.05) (1408,0.18) (1420,0.04) (1510,0.12) (1520,0.04) (1588,0.3) (1600,0.04) (1730,0.1) (1740,0.03) (2805,0.03)};
\addplot[sAER] coordinates {(515,25) (530,15) (550,12) (575,11) (583,200) (591,10.5) (600,10) (609,130) (617,9.5) (700,8.5) (720,8.2) (727,50) (734,8) (760,7.6) (768,25) (775,7.5) (788,7.2) (795,25) (802,7) (850,6.2) (860,18) (868,6) (900,5.5) (911,80) (920,5.3) (960,5) (969,60) (977,5) (1000,4.8) (1100,4.2) (1120,20) (1130,3.8) (1150,3.5) (1200,3) (1230,2.9) (1238,8) (1250,2.8) (1300,2.6) (1370,2.4) (1378,4) (1390,2.3) (1400,2.2) (1452,2) (1460,30) (1470,2) (1500,1.9) (1510,4) (1520,1.8) (1580,1.55) (1588,6) (1598,1.5) (1620,4) (1630,1.3) (1700,1.1) (1722,1.05) (1730,2.5) (1740,1) (1757,0.95) (1765,12) (1775,0.9) (1800,0.85) (1840,0.78) (1847,2.5) (1860,0.75) (1900,0.68) (1950,0.64) (2000,0.62) (2050,0.6) (2090,0.58) (2104,7) (2118,0.7) (2150,0.72) (2195,0.75) (2204,2.8) (2214,0.72) (2250,0.72) (2290,0.75) (2330,0.68) (2370,0.6) (2400,0.35) (2420,0.15) (2435,0.12) (2448,0.5) (2460,0.12) (2480,0.08) (2545,0.08) (2555,0.25) (2565,0.08) (2600,0.09) (2614,19) (2628,0.08) (2805,0.05)};
\node[panellab] at (axis description cs:0.54,0.81) {GFM};
\end{axis}

\begin{axis}[at={(1.12cm,5.02cm)}, anchor=north west, width=9.64cm, height=3.34cm,
  ymode=log, ymin=0.1, ymax=1000, ytick={0.1,1,10,100,1000}, yticklabels={10\textsuperscript{−1},1,10,10\textsuperscript{2},10\textsuperscript{3}},
  minor ytick={0.2,0.3,0.4,0.5,0.6,0.7,0.8,0.9,2,3,4,5,6,7,8,9,20,30,40,50,60,70,80,90,200,300,400,500,600,700,800,900},
  ylabel={Counts},
  xmin=515, xmax=2805, xtick={600,800,...,2800}, minor xtick={550,600,...,2800}, xlabel={E / keV},
  legend style={at={(axis description cs:0.629,1.078)}},
  legend entries={Data, MC sum =, \hspace{0.6em}IR, \hspace{0.7em}+NER, \hspace{0.7em}+AER, \hspace{0.7em}+IC}]
\addplot[sBand] table {\bandC};
\addplot[sDatThin] table {\dataC};
\addplot[sMC] coordinates {(515,40) (560,37) (575,36) (583,300) (591,35) (600,34) (609,200) (617,33) (660,32) (700,30) (720,29) (727,110) (734,28) (760,27) (768,65) (775,26) (788,25.5) (795,40) (802,25) (850,24) (860,35) (868,23) (900,22) (911,120) (920,21) (960,20) (969,80) (977,19.5) (1000,19) (1060,17.5) (1110,16) (1120,35) (1130,15.5) (1200,14) (1230,13.5) (1238,22) (1250,13) (1300,12) (1370,11.2) (1378,14) (1390,11) (1408,12) (1420,10.5) (1452,9.8) (1460,60) (1470,9.5) (1500,9) (1510,11) (1520,8.5) (1580,7.5) (1588,15) (1598,7.2) (1620,10) (1630,6.8) (1660,6.3) (1700,5.7) (1722,5.4) (1730,7) (1740,5.2) (1757,4.9) (1765,20) (1775,4.7) (1800,4.3) (1840,3.8) (1847,6) (1860,3.7) (1900,3.2) (1950,2.6) (2000,2.1) (2050,1.6) (2090,1.15) (2104,9) (2118,1) (2150,0.9) (2195,0.95) (2204,4) (2214,0.85) (2250,0.8) (2290,0.85) (2330,0.75) (2370,0.65) (2400,0.45) (2420,0.2) (2435,0.14) (2448,0.8) (2460,0.15) (2480,0.14) (2520,0.13) (2545,0.15) (2555,0.55) (2565,0.13) (2600,0.15) (2614,22) (2628,0.13) (2650,0.1) (2690,0.12) (2700,0.2) (2710,0.1) (2805,0.1)};
\addplot[sIR] coordinates {(515,16) (600,15.8) (700,15) (800,14) (900,13) (1000,12) (1100,10.5) (1200,9.3) (1300,8) (1400,6.8) (1500,5.8) (1600,4.8) (1700,3.8) (1800,2.8) (1900,1.9) (1950,1.5) (2000,1.15) (2050,0.8) (2100,0.5) (2130,0.3) (2160,0.18) (2180,0.12) (2200,0.08) (2300,0.03)};
\addlegendimage{gray, line width=1.1pt}
\addplot[sAER] coordinates {(515,28) (530,20) (550,18) (575,17) (583,250) (591,16.5) (600,16) (609,150) (617,15.5) (700,13) (720,12.7) (727,80) (734,12.5) (760,11.7) (768,40) (775,11.5) (788,11.2) (795,30) (802,11) (850,9.8) (860,25) (868,9.5) (900,9) (911,100) (920,8.5) (960,8.1) (969,70) (977,8) (1000,7.5) (1100,6.3) (1120,25) (1130,6) (1200,5.2) (1230,4.9) (1238,12) (1250,4.8) (1300,4.4) (1370,4) (1378,6) (1390,3.9) (1400,3.8) (1452,3.4) (1460,40) (1470,3.3) (1500,3) (1510,5) (1520,2.9) (1580,2.3) (1588,7) (1598,2.2) (1620,5) (1630,2) (1700,1.6) (1722,1.5) (1730,3.5) (1740,1.45) (1757,1.35) (1765,14) (1775,1.3) (1800,1.2) (1840,1.05) (1847,3) (1860,1) (1900,0.95) (1950,0.85) (2000,0.8) (2050,0.75) (2090,0.7) (2104,8) (2118,0.85) (2150,0.82) (2195,0.85) (2204,3.5) (2214,0.8) (2250,0.78) (2290,0.8) (2330,0.72) (2370,0.62) (2400,0.42) (2420,0.18) (2435,0.13) (2448,0.75) (2460,0.13) (2480,0.1) (2545,0.1) (2555,0.5) (2565,0.1) (2600,0.12) (2614,21) (2628,0.1) (2805,0.06)};
\addlegendimage{mag, line width=1.1pt}
\node[panellab] at (axis description cs:0.54,0.838) {LNM};
\end{axis}

% ================= (d) High energy =================
\begin{axis}[at={(13.14cm,8.78cm)}, anchor=north west, width=9.72cm, height=3.34cm,
  ymode=log, ymin=0.1, ymax=6300, ytick={0.1,1,10,100,1000}, yticklabels={10\textsuperscript{−1},1,10,10\textsuperscript{2},10\textsuperscript{3}},
  minor ytick={0.2,0.3,0.4,0.5,0.6,0.7,0.8,0.9,2,3,4,5,6,7,8,9,20,30,40,50,60,70,80,90,200,300,400,500,600,700,800,900,2000,3000,4000,5000,6000},
  ylabel={Counts},
  xmin=4000, xmax=7000, xtick={4000,4500,...,7000}, xticklabels={}, minor xtick={4100,4200,...,6900}]
\addplot[sDat] table {\dataD};
\addplot[blue, line width=1.1pt, const plot mark mid] table {\irDg};
\node[panellab] at (axis description cs:0.179,0.898) {GFM};
\draw[black!75, line width=0.5pt] (axis cs:5300,750) -- (axis cs:5300,60);
\node[font=\fontsize{8}{9}\selectfont] at (axis cs:5310,1850) {Surface \textsuperscript{210}Pb};
\end{axis}

\begin{axis}[at={(13.14cm,5.02cm)}, anchor=north west, width=9.72cm, height=3.34cm,
  ymode=log, ymin=0.1, ymax=6300, ytick={0.1,1,10,100,1000}, yticklabels={10\textsuperscript{−1},1,10,10\textsuperscript{2},10\textsuperscript{3}},
  minor ytick={0.2,0.3,0.4,0.5,0.6,0.7,0.8,0.9,2,3,4,5,6,7,8,9,20,30,40,50,60,70,80,90,200,300,400,500,600,700,800,900,2000,3000,4000,5000,6000},
  ylabel={Counts},
  xmin=4000, xmax=7000, xtick={4000,4500,...,7000}, minor xtick={4100,4200,...,6900}, xlabel={E / keV},
  legend style={at={(axis description cs:0.438,0.958)}, fill opacity=0},
  legend entries={Data, \hspace{0.6em}IR}]
\addplot[sDat] table {\dataD};
\addplot[blue, line width=1.1pt, const plot mark mid] table {\irDl};
\node[panellab] at (axis description cs:0.179,0.904) {LNM};
\draw[line width=1.6pt, -{Triangle[length=0.22cm, width=0.2cm]}] (axis cs:6236,520) -- (axis cs:6236,95);
\end{axis}

% ================= captions =================
\node[font=\capfont\fontsize{14.5}{17}\selectfont] at (5.8cm,10.2cm) {(a) ROI};
\node[font=\capfont\fontsize{14.5}{17}\selectfont] at (17.6cm,10.2cm) {(b) Low energy range};
\node[font=\capfont\fontsize{14.5}{17}\selectfont] at (6.1cm,0.32cm) {(c) Medium energy range};
\node[font=\capfont\fontsize{14.5}{17}\selectfont] at (17.62cm,0.32cm) {(d) High energy range};

\pgfresetboundingbox
\path[use as bounding box] (0,0) rectangle (23.26cm,18.88cm);
\end{tikzpicture}
\end{document}
